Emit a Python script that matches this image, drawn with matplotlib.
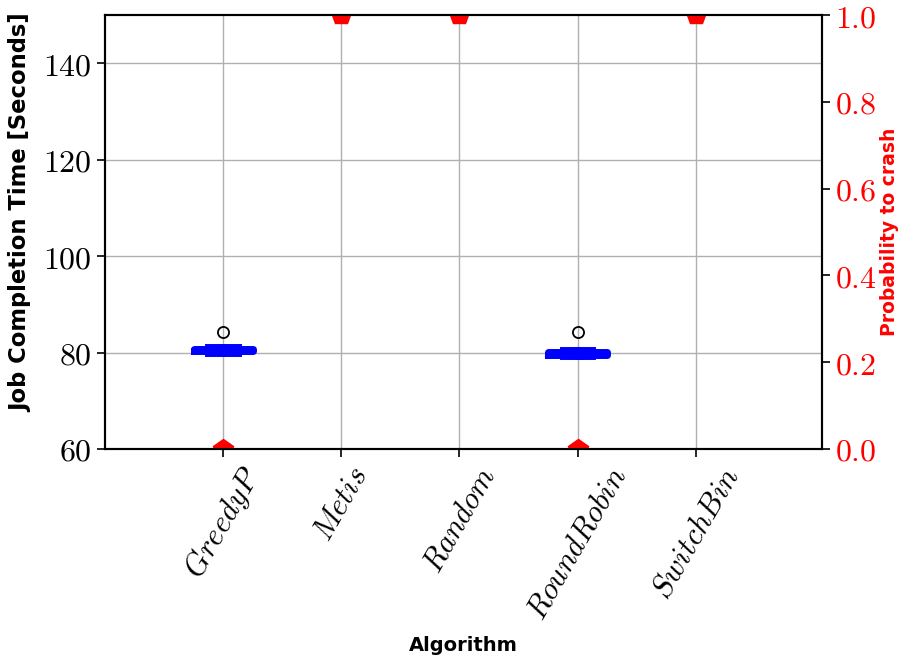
import matplotlib
matplotlib.use("Agg")
import matplotlib.pyplot as plt

plt.rcParams['mathtext.fontset'] = 'cm'

# Data
algorithms = ["GreedyP", "Metis", "Random", "RoundRobin", "SwitchBin"]
crash_prob = [0.0, 1.0, 1.0, 0.0, 1.0]

# box stats for algorithms that finished (GreedyP, RoundRobin)
box_positions = [1, 4]
box_q1 = [80.3, 79.5]
box_med = [80.55, 79.75]
box_q3 = [80.8, 80.1]
box_whislo = [80.0, 79.3]
box_whishi = [81.2, 80.5]
box_fliers = [[84.3], [84.3]]

y_ticks = [60, 80, 100, 120, 140]
y2_ticks = [0.0, 0.2, 0.4, 0.6, 0.8, 1.0]


def main():
    fig = plt.figure(figsize=(8.98, 6.64), dpi=100)
    ax = fig.add_axes([0.117, 0.3238, 0.7984, 0.6536])

    stats = []
    for i in range(len(box_positions)):
        stats.append({
            "med": box_med[i], "q1": box_q1[i], "q3": box_q3[i],
            "whislo": box_whislo[i], "whishi": box_whishi[i],
            "fliers": box_fliers[i],
        })

    lw = 5
    ax.bxp(stats, positions=box_positions, widths=0.5,
           boxprops=dict(color="blue", linewidth=lw),
           whiskerprops=dict(color="blue", linewidth=lw),
           capprops=dict(color="blue", linewidth=lw),
           medianprops=dict(color="blue", linewidth=lw),
           flierprops=dict(marker="o", markerfacecolor="none",
                           markeredgecolor="black", markersize=8,
                           markeredgewidth=1.3))

    positions = list(range(1, len(algorithms) + 1))
    ax.set_xlim(0, 6.07)
    ax.set_ylim(60, 150)
    ax.set_xticks(positions)
    ax.set_xticklabels(["$" + a + "$" for a in algorithms],
                       rotation=60, ha="center", fontsize=22)
    ax.set_yticks(y_ticks)
    ax.set_yticklabels(["$%d$" % v for v in y_ticks], fontsize=23)
    ax.grid(True, color="#b0b0b0", linewidth=1)
    ax.set_axisbelow(True)
    ax.tick_params(length=6, width=1.2)
    for s in ax.spines.values():
        s.set_linewidth(1.5)

    ax.set_xlabel("Algorithm", fontsize=14, fontweight="bold", labelpad=8)
    ax.set_ylabel("Job Completion Time [Seconds]", fontsize=16.3,
                  fontweight="bold")
    ax.yaxis.set_label_coords(-0.102, 0.544)

    # Crash probability on the right axis
    ax2 = ax.twinx()
    ax2.plot(positions, crash_prob, linestyle="none", marker="p",
             color="red", markersize=15)
    ax2.set_ylim(0, 1)
    ax2.set_yticks(y2_ticks)
    ax2.set_yticklabels(["$%.1f$" % v for v in y2_ticks], fontsize=23,
                        color="red")
    ax2.tick_params(length=6, width=1.2)
    ax2.set_ylabel("Probability to crash", fontsize=13.5, fontweight="bold",
                   color="red", labelpad=2)
    for s in ax2.spines.values():
        s.set_linewidth(1.5)

    fig.savefig("out.png", dpi=100)


if __name__ == "__main__":
    main()
